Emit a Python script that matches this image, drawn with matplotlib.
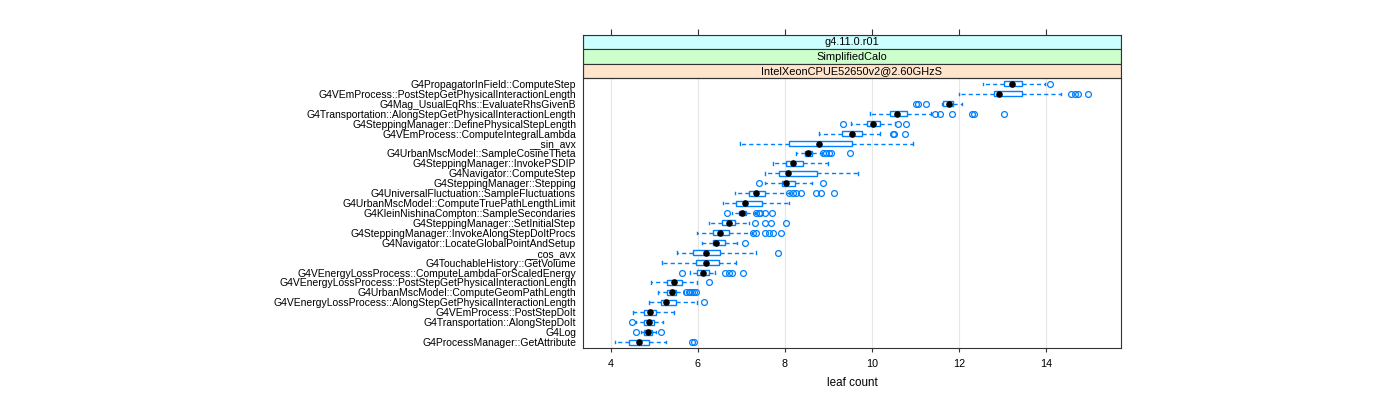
import matplotlib
matplotlib.use("Agg")
import matplotlib.pyplot as plt
from matplotlib.patches import Rectangle

plt.rcParams['font.family'] = ['Liberation Sans', 'DejaVu Sans']

categories = [
    "G4PropagatorInField::ComputeStep",
    "G4VEmProcess::PostStepGetPhysicalInteractionLength",
    "G4Mag_UsualEqRhs::EvaluateRhsGivenB",
    "G4Transportation::AlongStepGetPhysicalInteractionLength",
    "G4SteppingManager::DefinePhysicalStepLength",
    "G4VEmProcess::ComputeIntegralLambda",
    "__sin_avx",
    "G4UrbanMscModel::SampleCosineTheta",
    "G4SteppingManager::InvokePSDIP",
    "G4Navigator::ComputeStep",
    "G4SteppingManager::Stepping",
    "G4UniversalFluctuation::SampleFluctuations",
    "G4UrbanMscModel::ComputeTruePathLengthLimit",
    "G4KleinNishinaCompton::SampleSecondaries",
    "G4SteppingManager::SetInitialStep",
    "G4SteppingManager::InvokeAlongStepDoItProcs",
    "G4Navigator::LocateGlobalPointAndSetup",
    "__cos_avx",
    "G4TouchableHistory::GetVolume",
    "G4VEnergyLossProcess::ComputeLambdaForScaledEnergy",
    "G4VEnergyLossProcess::PostStepGetPhysicalInteractionLength",
    "G4UrbanMscModel::ComputeGeomPathLength",
    "G4VEnergyLossProcess::AlongStepGetPhysicalInteractionLength",
    "G4VEmProcess::PostStepDoIt",
    "G4Transportation::AlongStepDoIt",
    "G4Log",
    "G4ProcessManager::GetAttribute",
]

whisker_lo = [12.56, 12.01, 11.62, 9.97, 9.53, 8.79, 6.98, 8.27, 7.72, 7.54, 7.54, 6.85, 6.59,
              6.80, 6.25, 5.99, 6.11, 5.53, 5.19, 5.83, 4.93, 5.09, 4.89, 4.52, 4.59, 4.70, 4.10]
q1 = [13.04, 12.81, 11.64, 10.41, 9.90, 9.32, 8.09, 8.46, 8.02, 7.86, 7.93, 7.19, 6.89,
      6.94, 6.57, 6.36, 6.36, 5.90, 5.97, 5.99, 5.30, 5.30, 5.16, 4.77, 4.77, 4.77, 4.43]
median = [13.22, 12.92, 11.78, 10.57, 10.04, 9.55, 8.78, 8.53, 8.18, 8.07, 8.02, 7.35, 7.08,
          7.03, 6.71, 6.52, 6.43, 6.20, 6.20, 6.13, 5.46, 5.42, 5.28, 4.91, 4.89, 4.86, 4.66]
q3 = [13.45, 13.45, 11.87, 10.82, 10.18, 9.78, 9.55, 8.62, 8.41, 8.74, 8.23, 7.54, 7.49,
      7.12, 6.85, 6.71, 6.62, 6.52, 6.50, 6.25, 5.65, 5.51, 5.51, 5.05, 5.00, 4.96, 4.89]
whisker_hi = [13.98, 14.34, 12.08, 11.36, 10.54, 10.20, 10.95, 8.85, 8.99, 9.69, 8.62, 8.09, 8.11,
              7.31, 7.19, 7.26, 6.91, 7.35, 6.89, 6.41, 5.99, 5.69, 5.99, 5.46, 5.21, 5.05, 5.28]
outliers = [
    [14.10],
    [14.57, 14.66, 14.73, 14.96],
    [11.02, 11.06, 11.25],
    [11.46, 11.57, 11.85, 12.31, 12.35, 13.05],
    [9.35, 10.60, 10.79],
    [10.49, 10.51, 10.77],
    [],
    [8.87, 8.94, 9.01, 9.06, 9.50],
    [],
    [],
    [7.40, 8.87],
    [8.11, 8.18, 8.25, 8.37, 8.71, 8.83, 9.13],
    [],
    [6.68, 7.35, 7.40, 7.44, 7.54, 7.70],
    [7.31, 7.54, 7.68, 8.02],
    [7.28, 7.35, 7.54, 7.65, 7.74, 7.91],
    [7.08],
    [7.84],
    [],
    [5.65, 6.64, 6.71, 6.80, 7.05],
    [6.25],
    [5.74, 5.79, 5.83, 5.88, 5.92, 5.97],
    [6.15],
    [],
    [4.50],
    [4.59, 5.16],
    [5.88, 5.92],
]

strip_labels = ["g4.11.0.r01", "SimplifiedCalo", "IntelXeonCPUE52650v2@2.60GHzS"]
strip_colors = ["#ccffff", "#ccffcc", "#ffe5cc"]
x_ticks = [4, 6, 8, 10, 12, 14]
x_label = "leaf count"

blue = "#0080ff"
border = "#333333"
fs = 7.45

fig = plt.figure(figsize=(14, 4), dpi=100)
L, R = 583 / 1400, 1121 / 1400
B, T = 1 - 348 / 400, 1 - 78 / 400
ax = fig.add_axes([L, B, R - L, T - B])

n = len(categories)
positions = [n - 1 - i for i in range(n)]
stats = []
for i in range(n):
    stats.append(dict(whislo=whisker_lo[i], q1=q1[i], med=median[i], q3=q3[i],
                      whishi=whisker_hi[i], fliers=outliers[i], label=categories[i]))

ax.bxp(stats, positions=positions, orientation='horizontal', widths=0.5, capwidths=0.25,
       patch_artist=True, manage_ticks=False,
       boxprops=dict(facecolor='white', edgecolor=blue, linewidth=1.0),
       whiskerprops=dict(color=blue, linestyle=(0, (3, 2.2)), linewidth=1.0),
       capprops=dict(color=blue, linewidth=1.0),
       medianprops=dict(linestyle='none'),
       flierprops=dict(marker='o', markerfacecolor='none', markeredgecolor=blue,
                       markersize=4.2, markeredgewidth=0.9, linestyle='none'),
       zorder=3)
ax.scatter(median, positions, s=14, color='black', zorder=5)

ax.set_xlim(3.366, 15.727)
ax.set_ylim(-0.6, n - 0.4)
for xv in x_ticks:
    ax.axvline(xv, color='#e6e6e6', linewidth=0.8, zorder=0)

ax.set_yticks(positions)
ax.set_yticklabels(categories, fontsize=fs)
ax.tick_params(axis='y', length=0, pad=5)
ax.set_xticks(x_ticks)
ax.set_xticklabels([str(t) for t in x_ticks], fontsize=fs + 0.3)
ax.tick_params(axis='x', direction='out', length=3, width=0.8, color=border, pad=5)
ax.set_xlabel(x_label, fontsize=fs + 0.9, labelpad=6)
for s in ax.spines.values():
    s.set_color(border)
    s.set_linewidth(0.8)

# strips
S_B = T
S_T = 1 - 35 / 400
sax = fig.add_axes([L, S_B, R - L, S_T - S_B])
sax.set_xlim(ax.get_xlim())
sax.set_ylim(0, 3)
for k, (lab, col) in enumerate(zip(strip_labels, strip_colors)):
    y0 = 2 - k
    sax.add_patch(Rectangle((ax.get_xlim()[0], y0), ax.get_xlim()[1] - ax.get_xlim()[0], 1,
                            facecolor=col, edgecolor=border, linewidth=0.8))
    sax.text(sum(ax.get_xlim()) / 2, y0 + 0.5, lab, ha='center', va='center', fontsize=fs + 0.5)
sax.set_yticks([])
sax.set_xticks(x_ticks)
sax.xaxis.tick_top()
sax.tick_params(axis='x', direction='out', length=4, width=0.8, color=border, labeltop=False, labelbottom=False)
for s in sax.spines.values():
    s.set_color(border)
    s.set_linewidth(0.8)

fig.savefig("out.png", dpi=100)
